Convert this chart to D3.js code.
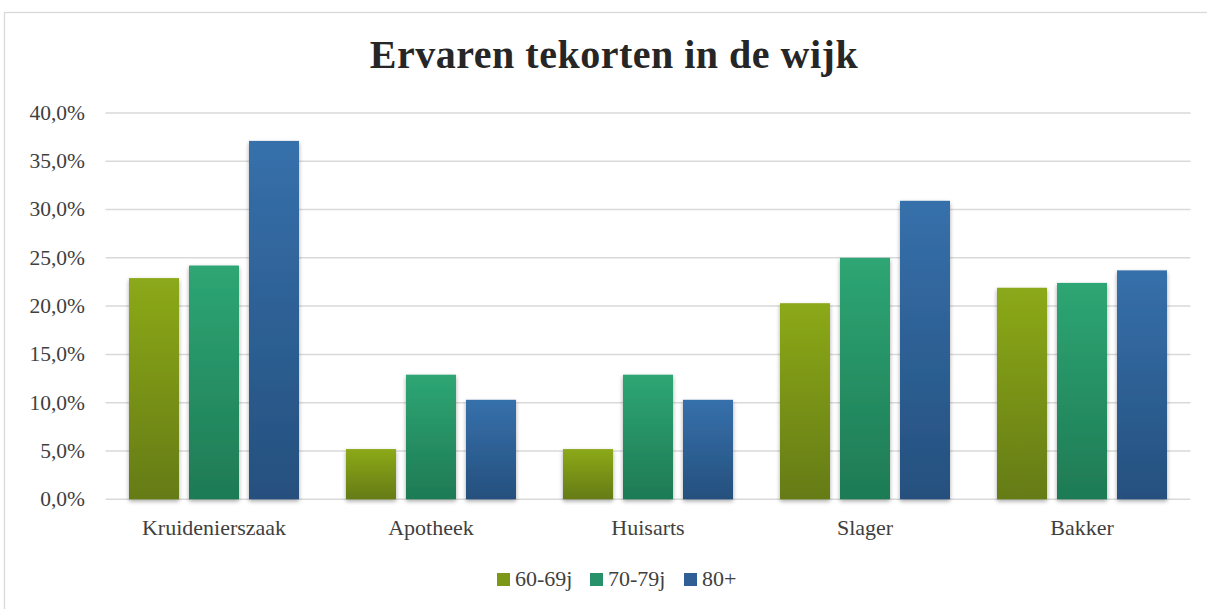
<!DOCTYPE html>
<html><head><meta charset="utf-8">
<script src="https://cdn.jsdelivr.net/npm/d3@7"></script>
<style>
html,body{margin:0;padding:0;background:#fff;}
svg{display:block;font-family:"Liberation Serif","Times New Roman",serif;}
</style></head>
<body><svg id="chart" width="1207" height="609"></svg>
<script>
const categories = ["Kruidenierszaak","Apotheek","Huisarts","Slager","Bakker"];
const seriesNames = ["60-69j","70-79j","80+"];
const s6069 = [22.9, 5.2, 5.2, 20.3, 21.9];
const s7079 = [24.2, 12.9, 12.9, 25.0, 22.4];
const s80 = [37.1, 10.3, 10.3, 30.9, 23.7];
const yTicks = [0,5,10,15,20,25,30,35,40];
const title = "Ervaren tekorten in de wijk";

const seriesValues = [s6069, s7079, s80];
const gradStops = [["#8ca91a","#657b12"],["#2ea674","#1e7a54"],["#3670ab","#25507e"]];
const legendColors = ["#7d9717","#279169","#2f5f95"];

const svg = d3.select("#chart");
const defs = svg.append("defs");
gradStops.forEach((g,i)=>{
  const lg = defs.append("linearGradient").attr("id","g"+i).attr("x1",0).attr("y1",0).attr("x2",0).attr("y2",1);
  lg.append("stop").attr("offset","0%").attr("stop-color",g[0]);
  lg.append("stop").attr("offset","100%").attr("stop-color",g[1]);
});
const f = defs.append("filter").attr("id","sh").attr("x","-20%").attr("y","-10%").attr("width","140%").attr("height","120%");
f.append("feGaussianBlur").attr("in","SourceAlpha").attr("stdDeviation",2.2).attr("result","b");
f.append("feOffset").attr("in","b").attr("dx",0).attr("dy",2).attr("result","o");
f.append("feComponentTransfer").attr("in","o").attr("result","o2").append("feFuncA").attr("type","linear").attr("slope",0.35);
const m = f.append("feMerge"); m.append("feMergeNode").attr("in","o2"); m.append("feMergeNode").attr("in","SourceGraphic");

// border
svg.append("rect").attr("x",4.5).attr("y",12.5).attr("width",1210).attr("height",610)
  .attr("fill","none").attr("stroke","#d9d9d9").attr("stroke-width",1.3);

svg.append("text").attr("x",614).attr("y",68).attr("text-anchor","middle")
  .attr("font-size",40).attr("font-weight","bold").attr("letter-spacing",0.5).attr("fill","#262626").text(title);

const pLeft = 105.5, pRight = 1190.5, pTop = 112.9, pBottom = 499.3;
const y = d3.scaleLinear().domain([0,40]).range([pBottom, pTop]);
const x0 = d3.scaleBand().domain(categories).range([pLeft,pRight]).paddingInner(47/217).paddingOuter(47/217/2);
const x1 = d3.scaleBand().domain(seriesNames).range([0,x0.bandwidth()]).paddingInner(10/60).paddingOuter(0);

// gridlines
svg.append("g").selectAll("line").data(yTicks).join("line")
  .attr("x1",pLeft).attr("x2",pRight).attr("y1",d=>y(d)).attr("y2",d=>y(d))
  .attr("stroke","#d9d9d9").attr("stroke-width",1.5);

// y axis labels
const yAxis = d3.axisLeft(y).tickValues(yTicks).tickSize(0).tickPadding(0)
  .tickFormat(d=>d3.format(".1f")(d).replace(".",",")+"%");
const ya = svg.append("g").attr("transform",`translate(85,0)`).call(yAxis);
ya.select(".domain").remove();
ya.selectAll("text").attr("font-size",21.5).attr("fill","#404040").attr("font-family","Liberation Serif").attr("dy","0.3em");

// bars
const g = svg.append("g");
categories.forEach((c,ci)=>{
  seriesNames.forEach((s,si)=>{
    const v = seriesValues[si][ci];
    g.append("rect").attr("x",x0(c)+x1(s)).attr("width",x1.bandwidth())
      .attr("y",y(v)).attr("height",y(0)-y(v)).attr("fill",`url(#g${si})`).attr("filter","url(#sh)");
  });
});

// x axis labels
const xAxis = d3.axisBottom(x0).tickSize(0).tickPadding(0);
const xa = svg.append("g").attr("transform",`translate(0,${pBottom})`).call(xAxis);
xa.select(".domain").remove();
xa.selectAll("text").attr("font-size",22).attr("fill","#404040").attr("font-family","Liberation Serif").attr("dy",0).attr("y",36);

// legend
const legX = [497,590,684];
const leg = svg.append("g");
seriesNames.forEach((s,i)=>{
  leg.append("rect").attr("x",legX[i]).attr("y",573).attr("width",13).attr("height",13).attr("fill",legendColors[i]);
  leg.append("text").attr("x",legX[i]+18).attr("y",586).attr("font-size",22).attr("fill","#404040").text(s);
});
</script></body></html>
